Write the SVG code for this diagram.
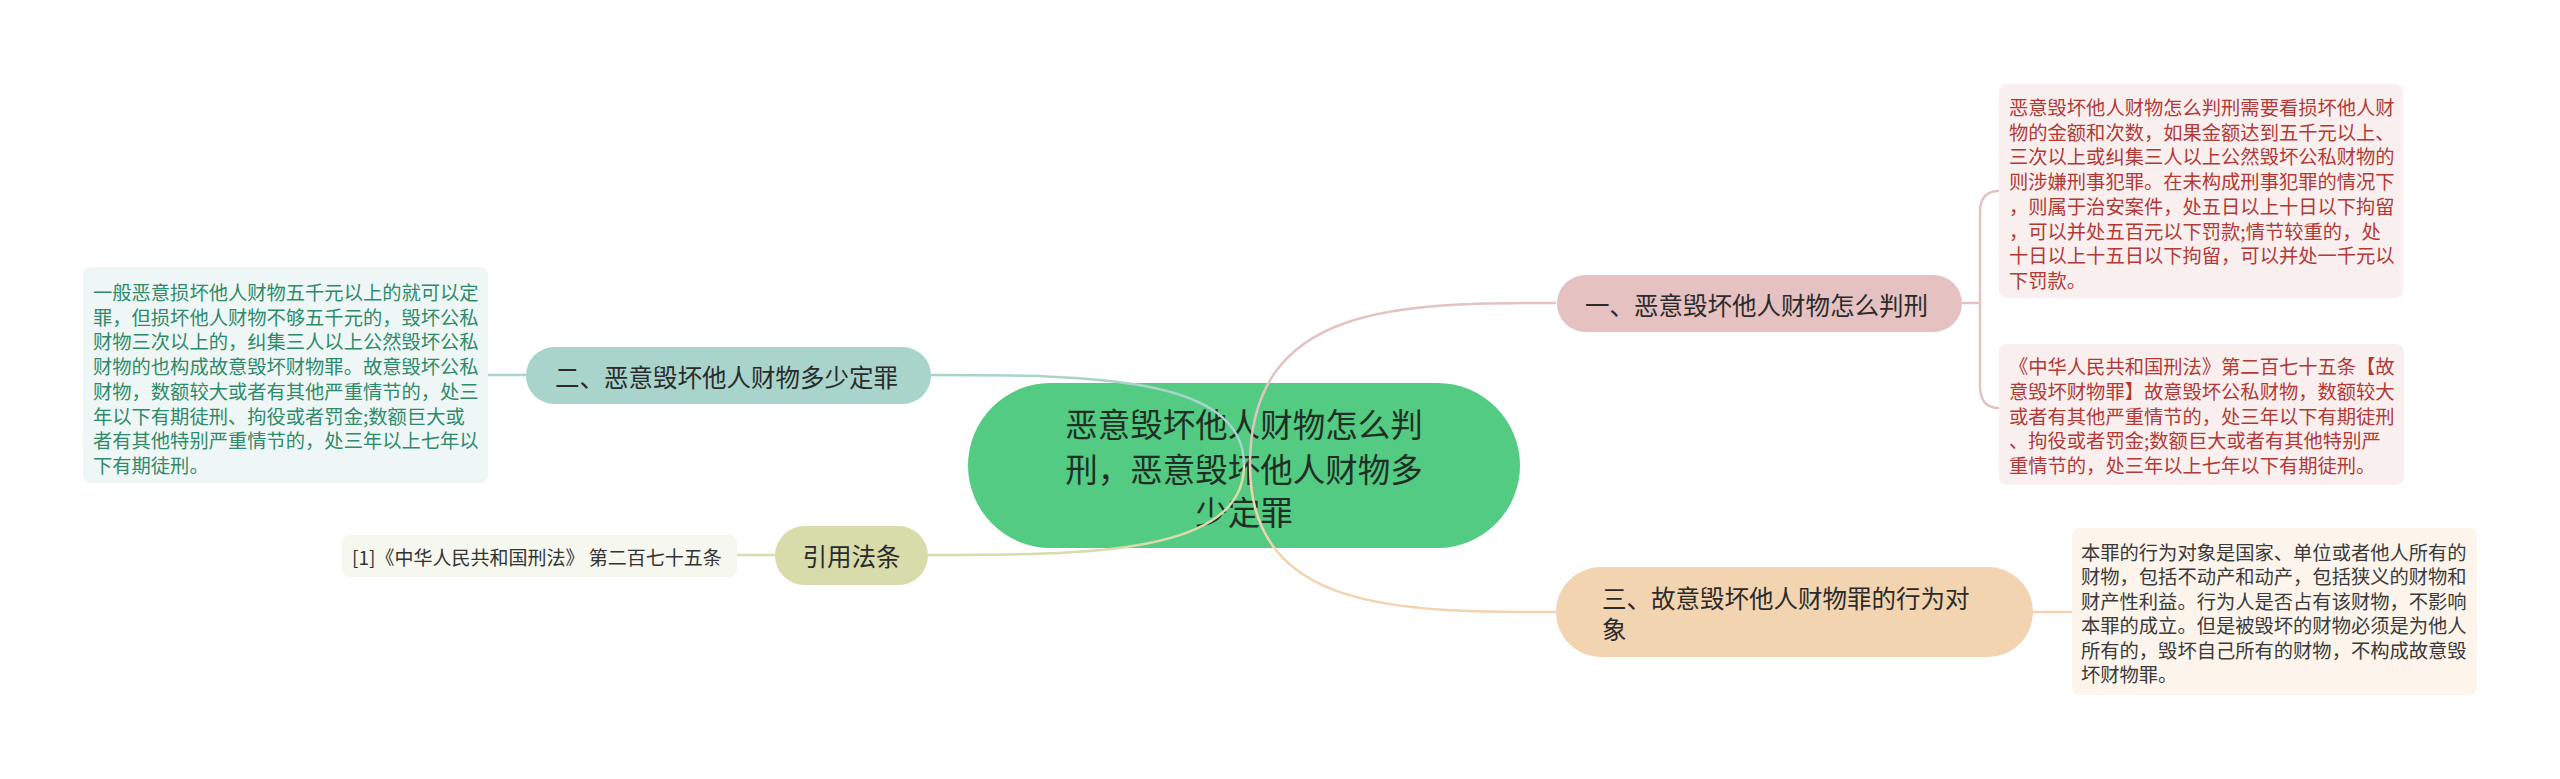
<svg xmlns="http://www.w3.org/2000/svg" width="2560" height="779" viewBox="0 0 2560 779">
<style>
text{font-family:"Noto Sans CJK SC","Noto Sans",sans-serif;dominant-baseline:central}
.main{font-size:24.5px;fill:#2b2b2b}
.root{font-size:32.5px;fill:#1f2f25;text-anchor:middle}
.t{font-size:19.3px}
.red{fill:#b23a36}
.dk{fill:#3a3a3a}
.gr{fill:#2f8a6c}
.ref{font-size:19px;fill:#333}
.c{fill:none;stroke-width:2.5}
</style>
<rect width="2560" height="779" fill="#ffffff"/>
<g id="root">
<rect x="968" y="383" width="552" height="165" rx="82.5" fill="#53cb82"/>
<text class="root" x="1244" y="422">恶意毁坏他人财物怎么判</text>
<text class="root" x="1244" y="467">刑，恶意毁坏他人财物多</text>
<text class="root" x="1244" y="510">少定罪</text>
</g>
<g id="connectors">
<path class="c" stroke="#e3c2c2" d="M1250 465 C1250 303 1400 303 1556 303"/>
<path class="c" stroke="#f2d2af" d="M1250 465 C1250 612 1400 612 1556 612"/>
<path class="c" stroke="#a8d4cb" d="M1244 465 C1244 375 1087 375 931 375"/>
<path class="c" stroke="#d8dbaa" d="M1244 465 C1244 555 1087 555 928 555"/>
<path class="c" stroke="#e3c2c2" d="M1962 303 L1980 303 M1999 191 Q1980 191 1980 212 L1980 386 Q1980 408 1999 408"/>
<path class="c" stroke="#f2d2af" d="M2033 612 L2072 612"/>
<path class="c" stroke="#a8d4cb" d="M488 375 L526 375"/>
<path class="c" stroke="#d8dbaa" d="M737 555 L775 555"/>
</g>
<g id="node1">
<rect x="1557" y="275" width="405" height="57" rx="28.5" fill="#e6c1c1"/>
<text class="main" x="1585" y="304">一、恶意毁坏他人财物怎么判刑</text>
</g>
<g id="node1-text1">
<rect x="1999" y="84" width="404" height="214" rx="8" fill="#f9efef"/>
<text class="t red" x="2009" y="107">恶意毁坏他人财物怎么判刑需要看损坏他人财</text>
<text class="t red" x="2009" y="131.7">物的金额和次数，如果金额达到五千元以上、</text>
<text class="t red" x="2009" y="156.4">三次以上或纠集三人以上公然毁坏公私财物的</text>
<text class="t red" x="2009" y="181.1">则涉嫌刑事犯罪。在未构成刑事犯罪的情况下</text>
<text class="t red" x="2009" y="205.8">，则属于治安案件，处五日以上十日以下拘留</text>
<text class="t red" x="2009" y="230.5">，可以并处五百元以下罚款;情节较重的，处</text>
<text class="t red" x="2009" y="255.2">十日以上十五日以下拘留，可以并处一千元以</text>
<text class="t red" x="2009" y="279.9">下罚款。</text>
</g>
<g id="node1-text2">
<rect x="1999" y="344" width="405" height="141" rx="8" fill="#f9efef"/>
<text class="t red" x="2009" y="366">《中华人民共和国刑法》第二百七十五条【故</text>
<text class="t red" x="2009" y="390.75">意毁坏财物罪】故意毁坏公私财物，数额较大</text>
<text class="t red" x="2009" y="415.5">或者有其他严重情节的，处三年以下有期徒刑</text>
<text class="t red" x="2009" y="440.25">、拘役或者罚金;数额巨大或者有其他特别严</text>
<text class="t red" x="2009" y="465">重情节的，处三年以上七年以下有期徒刑。</text>
</g>
<g id="node3">
<rect x="1556" y="567" width="477" height="90" rx="45" fill="#f3d4b1"/>
<text class="main" x="1602" y="597">三、故意毁坏他人财物罪的行为对</text>
<text class="main" x="1602" y="628">象</text>
</g>
<g id="node3-text">
<rect x="2072" y="528" width="405" height="167" rx="8" fill="#fdf5ec"/>
<text class="t dk" x="2081" y="552">本罪的行为对象是国家、单位或者他人所有的</text>
<text class="t dk" x="2081" y="576.4">财物，包括不动产和动产，包括狭义的财物和</text>
<text class="t dk" x="2081" y="600.8">财产性利益。行为人是否占有该财物，不影响</text>
<text class="t dk" x="2081" y="625.2">本罪的成立。但是被毁坏的财物必须是为他人</text>
<text class="t dk" x="2081" y="649.6">所有的，毁坏自己所有的财物，不构成故意毁</text>
<text class="t dk" x="2081" y="674">坏财物罪。</text>
</g>
<g id="node2">
<rect x="526" y="347" width="405" height="57" rx="28.5" fill="#a8d4cb"/>
<text class="main" x="555" y="376">二、恶意毁坏他人财物多少定罪</text>
</g>
<g id="node2-text">
<rect x="83" y="267" width="405" height="216" rx="8" fill="#eef7f5"/>
<text class="t gr" x="93" y="292">一般恶意损坏他人财物五千元以上的就可以定</text>
<text class="t gr" x="93" y="316.7">罪，但损坏他人财物不够五千元的，毁坏公私</text>
<text class="t gr" x="93" y="341.4">财物三次以上的，纠集三人以上公然毁坏公私</text>
<text class="t gr" x="93" y="366.1">财物的也构成故意毁坏财物罪。故意毁坏公私</text>
<text class="t gr" x="93" y="390.8">财物，数额较大或者有其他严重情节的，处三</text>
<text class="t gr" x="93" y="415.5">年以下有期徒刑、拘役或者罚金;数额巨大或</text>
<text class="t gr" x="93" y="440.2">者有其他特别严重情节的，处三年以上七年以</text>
<text class="t gr" x="93" y="464.9">下有期徒刑。</text>
</g>
<g id="node4">
<rect x="775" y="526" width="153" height="59" rx="29.5" fill="#d8dbaa"/>
<text class="main" x="851.5" y="555.5" text-anchor="middle">引用法条</text>
</g>
<g id="node4-text">
<rect x="342" y="535" width="395" height="42" rx="8" fill="#f6f7ef"/>
<text class="ref" x="352" y="556">[1]《中华人民共和国刑法》 第二百七十五条</text>
</g>
</svg>
